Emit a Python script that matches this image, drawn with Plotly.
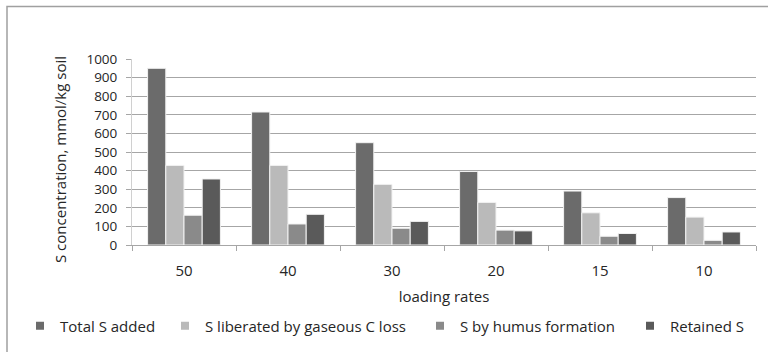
import plotly.graph_objects as go

# Loading rates (x categories) and S pools, mmol/kg soil
loading_rates = ["50", "40", "30", "20", "15", "10"]
total_s_added = [950, 715, 550, 395, 290, 255]
s_liberated_gaseous_c = [428, 428, 326, 229, 173, 150]
s_humus_formation = [160, 113, 90, 80, 47, 25]
retained_s = [355, 165, 127, 76, 62, 70]

series = [
    ("Total S added", total_s_added, "#6b6b6b"),
    ("S liberated by gaseous C loss", s_liberated_gaseous_c, "#bababa"),
    ("S by humus formation", s_humus_formation, "#8a8a8a"),
    ("Retained S", retained_s, "#5a5a5a"),
]

FONT = "Open Sans"
TEXT = "#262626"
GRID = "#a6a6a6"
FS = 15
W, H = 768, 352

# left pixel edge of each legend entry (one legend per series)
legend_left = [20, 165, 420, 630]
legend_ids = ["legend", "legend2", "legend3", "legend4"]

fig = go.Figure()
for name, vals, color in series:
    fig.add_trace(go.Bar(
        name=name, x=loading_rates, y=vals, showlegend=False,
        marker=dict(color=color, line=dict(color="#f2f2f2", width=1)),
    ))
# small square legend keys
for (name, vals, color), lid in zip(series, legend_ids):
    fig.add_trace(go.Scatter(
        name=name, x=[None], y=[None], mode="markers", legend=lid,
        marker=dict(symbol="square", size=8, color=color),
    ))

legends = {}
for lid, left in zip(legend_ids, legend_left):
    legends[lid] = dict(orientation="h", x=left / W, xanchor="left", xref="container",
                        y=(H - 326) / H, yanchor="middle", yref="container",
                        font=dict(size=FS), itemwidth=30, bgcolor="rgba(0,0,0,0)")

# plot area in pixels: x 132..756, y 59..245
PW, PH = 624, 186
fig.update_layout(
    width=W, height=H,
    margin=dict(l=132, r=12, t=59, b=107),
    paper_bgcolor="white", plot_bgcolor="white",
    font=dict(family=FONT, size=FS, color=TEXT),
    barmode="group", bargap=0.3, bargroupgap=0.0,
    showlegend=True,
    **legends,
    shapes=[dict(type="rect", xref="paper", yref="paper",
                 x0=(7 - 132) / PW, x1=1.1, y0=-0.7, y1=(245 - 6.5) / PH,
                 line=dict(color="#a0a0a0", width=1.5), fillcolor="rgba(0,0,0,0)",
                 layer="below")],
    annotations=[dict(text="S concentration, mmol/kg soil", textangle=-90,
                      xref="paper", yref="paper", showarrow=False,
                      x=(60 - 132) / PW, y=(245 - 160) / PH,
                      xanchor="center", yanchor="middle", font=dict(size=FS))],
)
fig.update_xaxes(
    title=dict(text="loading rates", font=dict(size=FS), standoff=12),
    showline=True, linecolor=GRID, linewidth=1, automargin=False,
    ticks="outside", tickson="boundaries", ticklen=5, tickcolor=GRID,
    showgrid=False, tickfont=dict(size=FS), ticklabelstandoff=12,
)
fig.update_yaxes(
    range=[0, 1000], dtick=100, showgrid=True, gridcolor=GRID, gridwidth=1,
    showline=True, linecolor="#d0d0d0", ticks="outside", ticklen=5, tickcolor=GRID,
    tickfont=dict(size=13.5), ticklabelstandoff=6, zeroline=False, automargin=False,
)

fig.write_html("out.html")
